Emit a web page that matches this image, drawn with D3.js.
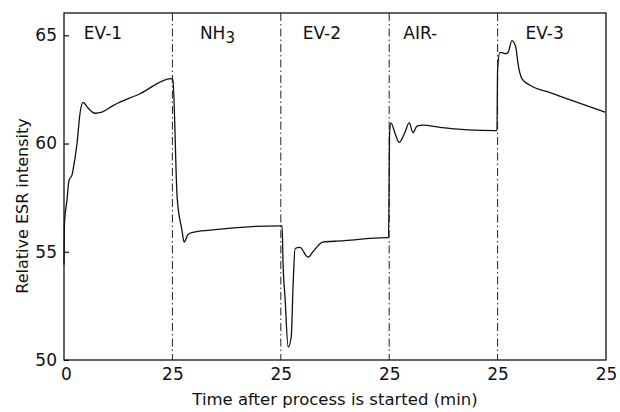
<!DOCTYPE html>
<html>
<head>
<meta charset="utf-8">
<script src="https://cdn.jsdelivr.net/npm/d3@7"></script>
<style>
	body { margin: 0; background: #ffffff; }
	text { font-family: "DejaVu Sans", sans-serif; fill: #111111; }
</style>
</head>
<body>
<div id="chart"></div>
<script>

//time since start of the whole run (min), each phase lasts 25 min
var timeMin = [0, 0.1, 0.7, 1.15, 1.85, 2.1, 3.0, 3.7, 4.4, 5.5, 7.15, 8.75, 11.3, 17.5, 24.7,
	25.1, 26.1, 27.2, 27.7, 28.6, 29.75, 33.7, 49.8,
	50.3, 50.5, 51.0, 51.7, 52.4, 52.85, 53.3, 54.4, 56.3, 57.4, 59.7, 63.65, 74.5,
	74.85, 75.1, 75.4, 76.3, 77.3, 78.6, 79.6, 80.5, 81.4, 82.8, 86.7, 99.4,
	99.85, 100.0, 100.5, 101.0, 101.7, 102.4, 103.3, 104.2, 104.7, 105.6, 107.4, 112.1, 124.8];

//relative ESR intensity
var esr = [54.4, 56.3, 57.4, 58.3, 58.55, 58.8, 60.0, 61.4, 61.9, 61.65, 61.4, 61.45, 61.75, 62.3, 63.0,
	62.95, 57.5, 56.0, 55.45, 55.8, 55.9, 56.0, 56.2,
	56.2, 54.6, 52.8, 50.6, 51.05, 53.55, 55.15, 55.2, 54.75, 55.0, 55.45, 55.5, 55.65,
	55.65, 60.5, 60.95, 60.5, 60.05, 60.5, 60.95, 60.5, 60.8, 60.85, 60.75, 60.6,
	60.6, 63.4, 64.2, 64.2, 64.15, 64.2, 64.75, 64.45, 63.7, 63.0, 62.7, 62.35, 61.45];

//phases of the process
var phases = ["EV-1", "NH3", "EV-2", "AIR-", "EV-3"];
var phaseStart = [0, 25, 50, 75, 100];

//axis ticks
var xTicks = [0, 25, 50, 75, 100, 125];
var xTickLabels = ["0", "25", "25", "25", "25", "25"];
var yTicks = [50, 55, 60, 65];

var width = 620;
var height = 412;
var margin = {top: 13, right: 14, bottom: 52, left: 64};

var svg = d3.select("#chart")
	.append("svg")
	.attr("width", width)
	.attr("height", height);

var x = d3.scaleLinear()
	.domain([0, 125])
	.range([margin.left, width - margin.right]);

var y = d3.scaleLinear()
	.domain([50, 66.03])
	.range([height - margin.bottom, margin.top]);

// x axis, labels only
var xAxis = svg.append("g")
	.attr("transform", "translate(0," + (height - margin.bottom) + ")")
	.call(d3.axisBottom(x)
		.tickValues(xTicks)
		.tickSize(0)
		.tickPadding(8)
		.tickFormat(function(d, i) { return xTickLabels[i]; }));
xAxis.select(".domain").remove();
xAxis.selectAll("text")
	.style("font-size", "17px")
	.attr("dx", function(d) { return d == 0 ? 2 : 0; });

// y axis with inward ticks
var yAxis = svg.append("g")
	.attr("transform", "translate(" + margin.left + ",0)")
	.call(d3.axisLeft(y)
		.tickValues(yTicks)
		.tickSizeInner(-5)
		.tickSizeOuter(0)
		.tickPadding(6)
		.tickFormat(d3.format("d")));
yAxis.select(".domain").remove();
yAxis.selectAll("line").attr("stroke", "#111111").attr("stroke-width", 1.2);
yAxis.selectAll("text")
	.style("font-size", "17px")
	.attr("x", -7);

// phase dividers (dash-dot)
svg.append("g")
	.selectAll("line")
	.data(phaseStart.slice(1))
	.enter()
	.append("line")
	.attr("x1", function(d) { return x(d); })
	.attr("x2", function(d) { return x(d); })
	.attr("y1", y.range()[1])
	.attr("y2", y.range()[0])
	.attr("stroke", "#222222")
	.attr("stroke-width", 1)
	.attr("stroke-dasharray", "8,3,1.5,3");

// frame
svg.append("rect")
	.attr("x", x(0))
	.attr("y", y.range()[1])
	.attr("width", x(125) - x(0))
	.attr("height", y.range()[0] - y.range()[1])
	.attr("fill", "none")
	.attr("stroke", "#111111")
	.attr("stroke-width", 1.3);

// phase labels
var labelNudge = [0, 6, 2, -8, 8];
var labels = svg.append("g")
	.selectAll("text")
	.data(phases)
	.enter()
	.append("text")
	.attr("x", function(d, i) { return x(phaseStart[i] + 9) + labelNudge[i]; })
	.attr("y", 39)
	.attr("text-anchor", "middle")
	.style("font-size", "17px");
labels.each(function(d) {
	var t = d3.select(this);
	if (d == "NH3") {
		t.append("tspan").text("NH");
		t.append("tspan").attr("dy", 4).style("font-size", "15px").text("3");
	} else {
		t.text(d);
	}
});

// ESR trace
var points = timeMin.map(function(t, i) { return [t, esr[i]]; });
var line = d3.line()
	.x(function(d) { return x(d[0]); })
	.y(function(d) { return y(d[1]); })
	.curve(d3.curveMonotoneX);

svg.append("path")
	.datum(points)
	.attr("d", line)
	.attr("fill", "none")
	.attr("stroke", "#111111")
	.attr("stroke-width", 1.3)
	.attr("stroke-linejoin", "round");

// axis titles
svg.append("text")
	.attr("x", 335)
	.attr("y", 405)
	.attr("text-anchor", "middle")
	.style("font-size", "16.5px")
	.text("Time after process is started (min)");

svg.append("text")
	.attr("transform", "translate(28," + 206 + ") rotate(-90)")
	.attr("text-anchor", "middle")
	.style("font-size", "16px")
	.text("Relative ESR intensity");

</script>
</body>
</html>
